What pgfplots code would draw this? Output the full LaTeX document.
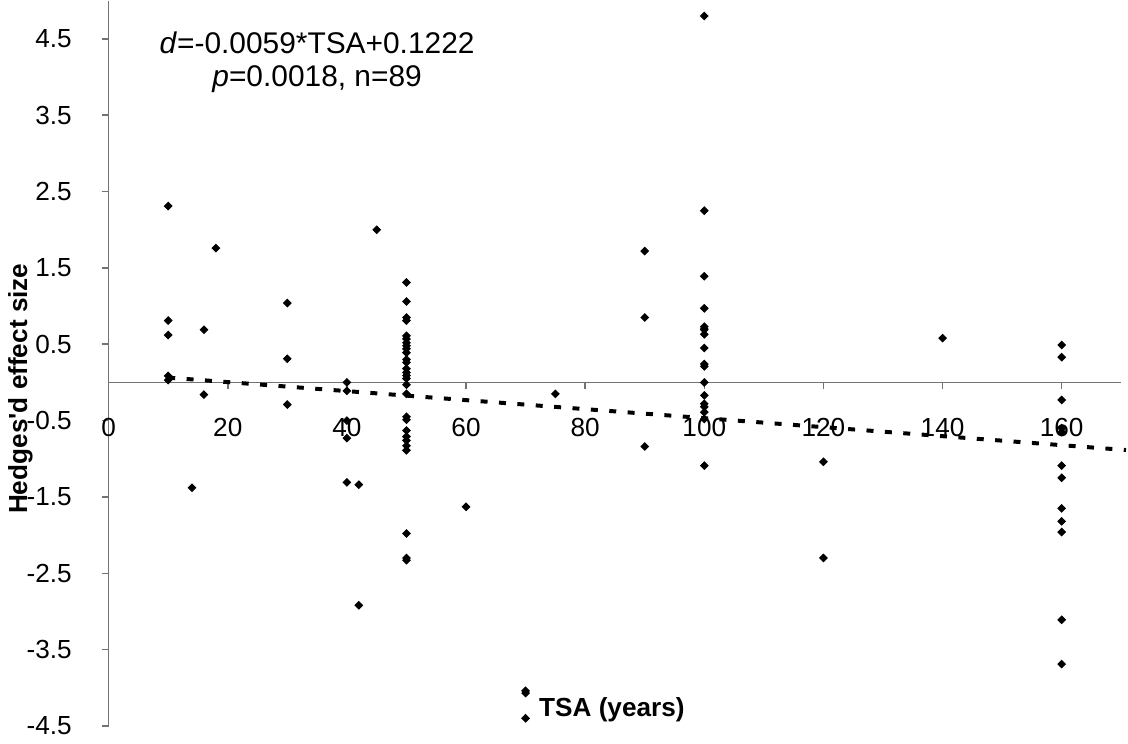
\documentclass[border=0pt]{standalone}
\usepackage{fontspec}
\setmainfont{Liberation Sans}
\usepackage{pgfplots}
\pgfplotsset{compat=1.18}

% effect sizes, one column per TSA value
\pgfplotstableread{
tsa d
10 2.31
10 0.81
10 0.62
10 0.085
10 0.03
14 -1.38
16 0.69
16 -0.16
18 1.76
30 1.04
30 0.31
30 -0.29
40 0.0
40 -0.11
40 -0.50
40 -0.73
40 -1.31
42 -1.34
42 -2.92
45 2.0
50 1.31
50 1.06
50 0.85
50 0.81
50 0.61
50 0.57
50 0.52
50 0.48
50 0.44
50 0.39
50 0.30
50 0.26
50 0.18
50 0.13
50 0.09
50 0.05
50 -0.03
50 -0.15
50 -0.45
50 -0.49
50 -0.63
50 -0.71
50 -0.76
50 -0.83
50 -0.89
50 -1.98
50 -2.30
50 -2.33
60 -1.63
70 -4.04
70 -4.07
70 -4.40
75 -0.15
90 1.72
90 0.85
90 -0.84
100 4.80
100 2.25
100 1.39
100 0.97
100 0.73
100 0.70
100 0.69
100 0.63
100 0.45
100 0.24
100 0.21
100 0.0
100 -0.17
100 -0.28
100 -0.32
100 -0.39
100 -0.48
100 -1.09
120 -1.04
120 -2.30
140 0.58
160 0.49
160 0.33
160 -0.23
160 -0.60
160 -0.65
160 -1.09
160 -1.25
160 -1.65
160 -1.82
160 -1.96
160 -3.11
160 -3.69
}\effects

\begin{document}
\begin{tikzpicture}
\begin{axis}[
    scale only axis,
    width=406.6pt, height=291.2pt,
    xmin=0, xmax=170, ymin=-4.5, ymax=5,
    axis x line=middle, axis y line=left,
    axis line style={-, draw=black!55, line width=0.6pt},
    hide obscured x ticks=false,
    xtick={0,20,...,160},
    ytick={-4.5,-3.5,...,4.5},
    tick align=outside,
    major tick length=2.8pt,
    tick style={draw=black!55, line width=0.6pt},
    every tick label/.append style={font=\fontsize{10.5}{12}\selectfont},
    /pgf/number format/assume math mode=true,
    yticklabel style={/pgf/number format/.cd, fixed, fixed zerofill, precision=1, /tikz/.cd, xshift=-8.5pt},
    xticklabel style={yshift=-8pt},
    xlabel={\bfseries TSA (years)},
    xlabel style={at={(axis description cs:0.497,0.022)}, anchor=center, font=\fontsize{10.5}{12}\selectfont},
    ylabel={\bfseries Hedges\textquotesingle d effect size},
    ylabel style={at={(axis description cs:-0.087,0.465)}, anchor=center, font=\fontsize{10.5}{12}\selectfont},
    clip=false,
]
\addplot[only marks, mark=square*, mark size=1.05pt, mark options={rotate=45}, black] table[x=tsa, y=d] {\effects};
\addplot[black, line width=1.6pt, dash pattern=on 2.8pt off 4.6pt] coordinates {(10,0.063) (170.8,-0.886)};
\node[align=center, font=\fontsize{12}{13.3}\selectfont] at (axis cs:35,4.19)
    {\textit{d}=-0.0059*TSA+0.1222\\\textit{p}=0.0018, n=89};
\end{axis}
\end{tikzpicture}
\end{document}
